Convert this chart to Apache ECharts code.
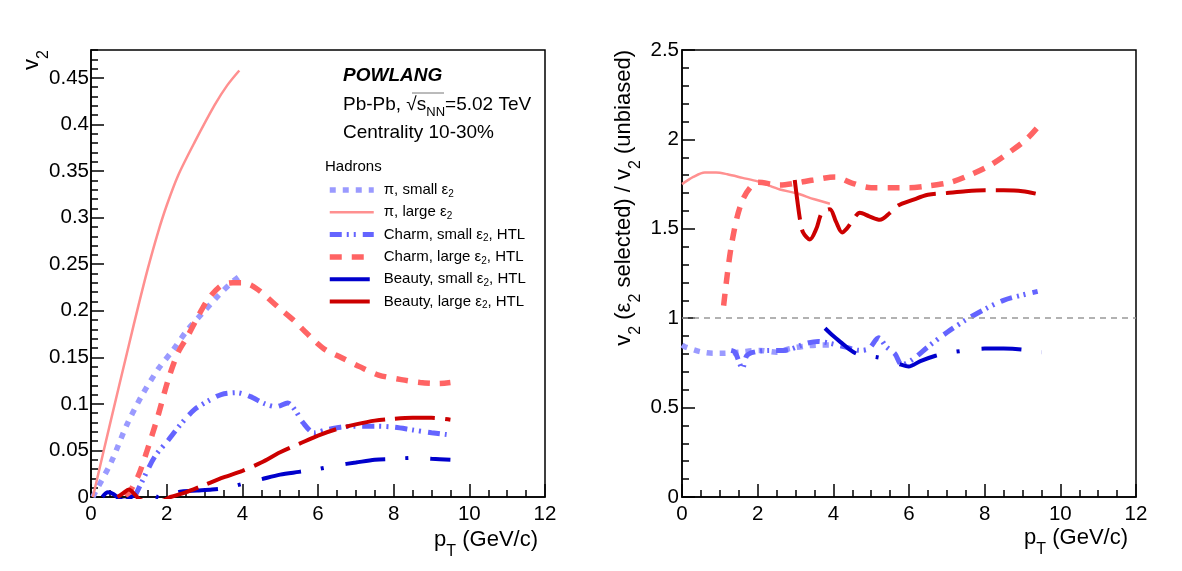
<!DOCTYPE html>
<html>
<head>
<meta charset="utf-8">
<script src="https://cdn.jsdelivr.net/npm/echarts@6/dist/echarts.min.js"></script>
<style>
html, body { margin: 0; padding: 0; background: #fff; }
#main { width: 1182px; height: 571px; }
</style>
</head>
<body>
<div id="main"></div>
<script>
// series names (legend order)
const seriesNames = [
  'π, small ε2',
  'π, large ε2',
  'Charm, small ε2, HTL',
  'Charm, large ε2, HTL',
  'Beauty, small ε2, HTL',
  'Beauty, large ε2, HTL'
];

// left panel: v2 vs pT, [pT, v2]
const piSmall = [[0.05,0.0],[0.1,0.004],[0.54,0.038],[0.93,0.076],[1.33,0.108],[1.77,0.137],[2.17,0.158],[2.56,0.18],[2.96,0.198],[3.36,0.216],[3.71,0.23],[3.93,0.237]];
const piLarge = [[0.05,0.0],[0.5,0.078],[1.0,0.163],[1.25,0.205],[1.5,0.245],[1.77,0.284],[2.0,0.313],[2.3,0.345],[2.74,0.381],[3.27,0.421],[3.6,0.442],[3.92,0.458]];
const charmSmall = [[1.15,0.0],[1.33,0.015],[1.68,0.043],[2.04,0.061],[2.39,0.079],[2.74,0.094],[3.09,0.103],[3.44,0.11],[3.85,0.112],[4.2,0.108],[4.6,0.1],[4.9,0.097],[5.2,0.101],[5.4,0.093],[5.6,0.08],[5.9,0.069],[6.2,0.072],[6.6,0.075],[7.0,0.076],[7.5,0.076],[8.0,0.075],[8.5,0.072],[9.0,0.069],[9.4,0.067]];
const charmLarge = [[0.95,0.0],[1.24,0.022],[1.46,0.047],[1.77,0.087],[2.04,0.126],[2.3,0.155],[2.56,0.173],[2.83,0.194],[3.09,0.212],[3.44,0.227],[3.75,0.23],[4.0,0.23],[4.25,0.227],[4.5,0.22],[4.75,0.211],[5.0,0.202],[5.35,0.19],[5.6,0.18],[5.9,0.168],[6.2,0.158],[6.6,0.15],[7.1,0.14],[7.6,0.131],[8.2,0.126],[8.7,0.123],[9.2,0.122],[9.5,0.123]];
const beautySmall = [[0.3,0.0],[0.45,0.005],[0.6,0.003],[0.75,-0.002],[0.9,-0.004],[1.1,0.001],[1.3,0.003],[1.5,0.004],[1.7,0.001],[1.9,-0.003],[2.1,0.002],[2.4,0.006],[2.8,0.007],[3.2,0.008],[3.6,0.01],[4.0,0.014],[4.5,0.019],[5.0,0.024],[5.5,0.027],[6.0,0.03],[6.5,0.034],[7.0,0.037],[7.5,0.04],[8.0,0.041],[8.5,0.042],[9.0,0.041],[9.5,0.04]];
const beautyLarge = [[0.7,0.0],[0.85,0.004],[1.0,0.008],[1.15,0.003],[1.3,-0.003],[1.6,-0.006],[1.9,-0.004],[2.1,0.0],[2.5,0.005],[3.0,0.013],[3.5,0.021],[4.0,0.028],[4.5,0.037],[5.0,0.048],[5.5,0.057],[6.0,0.066],[6.5,0.073],[7.0,0.078],[7.5,0.082],[8.0,0.084],[8.5,0.085],[9.0,0.085],[9.5,0.083]];

// right panel: v2(eps2 selected) / v2(unbiased), [pT, ratio]
const piSmallRatio = [[0,0.85],[0.08,0.84],[0.48,0.813],[0.83,0.804],[1.1,0.804],[1.5,0.81],[2.06,0.82],[2.5,0.81],[2.85,0.83],[3.3,0.845],[3.65,0.85],[3.95,0.85]];
const piLargeRatio = [[0,1.75],[0.3,1.79],[0.6,1.815],[0.9,1.815],[1.2,1.805],[1.6,1.785],[2.0,1.765],[2.59,1.72],[3.0,1.7],[3.5,1.665],[3.91,1.64]];
const charmSmallRatio = [[1.3,0.82],[1.4,0.81],[1.6,0.72],[1.71,0.79],[1.9,0.81],[2.3,0.82],[2.7,0.82],[3.3,0.86],[3.6,0.87],[3.9,0.86],[4.3,0.84],[4.7,0.82],[4.94,0.83],[5.2,0.89],[5.4,0.84],[5.63,0.8],[5.81,0.74],[6.1,0.77],[6.5,0.84],[7.0,0.92],[7.5,0.99],[8.0,1.05],[8.5,1.1],[9.0,1.13],[9.4,1.15]];
const charmLargeRatio = [[1.1,1.07],[1.2,1.25],[1.3,1.4],[1.45,1.56],[1.6,1.66],[1.8,1.73],[2.0,1.76],[2.59,1.745],[3.0,1.755],[3.47,1.773],[4.05,1.79],[4.49,1.756],[5.0,1.73],[5.5,1.73],[6.0,1.73],[6.5,1.74],[7.1,1.76],[7.6,1.8],[8.1,1.85],[8.6,1.92],[9.1,2.0],[9.45,2.08]];
const beautySmallRatio = [[3.78,0.944],[4.0,0.9],[4.2,0.865],[4.4,0.83],[4.63,0.8],[4.9,0.79],[5.2,0.78],[5.5,0.765],[5.8,0.74],[5.99,0.73],[6.3,0.76],[6.7,0.79],[7.0,0.805],[7.5,0.82],[8.0,0.83],[8.5,0.83],[9.0,0.825],[9.5,0.81]];
const beautyLargeRatio = [[2.98,1.773],[3.12,1.55],[3.2,1.48],[3.38,1.44],[3.55,1.5],[3.7,1.59],[3.91,1.61],[4.07,1.54],[4.23,1.48],[4.35,1.5],[4.49,1.54],[4.7,1.59],[4.95,1.57],[5.23,1.55],[5.5,1.59],[5.71,1.63],[6.08,1.66],[6.5,1.69],[7.0,1.7],[7.5,1.71],[8.0,1.715],[8.5,1.715],[9.0,1.71],[9.5,1.69]];

const referenceRatio = 1;

const FONT = 'Liberation Sans, Arial, Helvetica, sans-serif';

// line look per species: [color, width, dash]
const looks = [
  ['#9a9aff', 5.5, [6, 7]],
  ['#ff9090', 2.5, 'solid'],
  ['#6464ff', 5, [12, 5, 2, 5, 2, 7]],
  ['#ff6464', 5.5, [12, 10]],
  ['#0000cc', 4, [40, 20, 3, 22]],
  ['#cc0000', 4, [40, 10]]
];

function curve (i, data, panel) {
  const [color, width, dash] = looks[i];
  return {
    name: seriesNames[i],
    type: 'line',
    xAxisIndex: panel,
    yAxisIndex: panel === 0 ? 0 : 2,
    data: data,
    symbol: 'none',
    showSymbol: false,
    smooth: 0.3,
    lineStyle: { color: color, width: width, type: dash, cap: 'butt' },
    itemStyle: { color: color },
    z: 3
  };
}

const black = { color: '#000', width: 1.5 };
const tickLabel = { color: '#000', fontSize: 20.5, fontFamily: FONT };

function xAxisFor (g) {
  return {
    type: 'value', gridIndex: g, min: 0, max: 12, interval: 2,
    axisLine: { lineStyle: black },
    axisTick: { inside: true, length: 13, lineStyle: black },
    minorTick: { show: true, splitNumber: 4, length: 7, lineStyle: black },
    splitLine: { show: false },
    axisLabel: Object.assign({ margin: 7 }, tickLabel)
  };
}

const sub = { fontSize: 16, fontFamily: FONT, fill: '#000', verticalAlign: 'bottom', lineHeight: 16 };
const titleStyle = { fontSize: 22, fontFamily: FONT, fill: '#000', lineHeight: 40, rich: { s: sub } };

let option = {
  animation: false,
  backgroundColor: '#fff',
  grid: [
    { left: 91, top: 50, width: 454, height: 447, show: true, borderColor: '#000', borderWidth: 1.5, outerBoundsMode: 'none' },
    { left: 682, top: 50, width: 454, height: 447, show: true, borderColor: '#000', borderWidth: 1.5, outerBoundsMode: 'none' }
  ],
  xAxis: [xAxisFor(0), xAxisFor(1)],
  yAxis: [
    {
      type: 'value', gridIndex: 0, position: 'left', min: 0, max: 0.48, interval: 0.05,
      axisLine: { lineStyle: black },
      axisTick: { inside: true, length: 13, lineStyle: black },
      splitLine: { show: false },
      axisLabel: Object.assign({ margin: 2, showMaxLabel: false }, tickLabel)
    },
    {
      type: 'value', gridIndex: 0, position: 'left', min: 0, max: 0.48, interval: 0.01,
      axisLine: { show: false },
      axisTick: { inside: true, length: 7, lineStyle: black },
      splitLine: { show: false },
      axisLabel: { show: false }
    },
    {
      type: 'value', gridIndex: 1, position: 'left', min: 0, max: 2.5, interval: 0.5,
      axisLine: { lineStyle: black },
      axisTick: { inside: true, length: 13, lineStyle: black },
      minorTick: { show: true, splitNumber: 5, length: 7, lineStyle: black },
      splitLine: { show: false },
      axisLabel: Object.assign({ margin: 3 }, tickLabel)
    }
  ],
  legend: {
    left: 327, top: 181, orient: 'vertical',
    itemWidth: 44, itemHeight: 10, itemGap: 4.3, padding: 0,
    selectedMode: false,
    data: seriesNames,
    itemStyle: { opacity: 0 },
    lineStyle: { width: 'inherit' },
    formatter: name => name.replace('ε2', 'ε{s|2}'),
    textStyle: {
      color: '#000', fontSize: 15, fontFamily: FONT, lineHeight: 18, padding: [0, 0, 0, 5],
      rich: { s: { fontSize: 10, fontFamily: FONT, color: '#000', verticalAlign: 'bottom', lineHeight: 10 } }
    }
  },
  graphic: [
    { type: 'text', x: 538, y: 540, style: Object.assign({ text: 'p{s|T} (GeV/c)', align: 'right', verticalAlign: 'middle' }, titleStyle) },
    { type: 'text', x: 1128, y: 538, style: Object.assign({ text: 'p{s|T} (GeV/c)', align: 'right', verticalAlign: 'middle' }, titleStyle) },
    { type: 'text', x: 32, y: 50, rotation: Math.PI / 2, style: Object.assign({ text: 'v{s|2}', align: 'right', verticalAlign: 'middle' }, titleStyle) },
    { type: 'text', x: 624, y: 50, rotation: Math.PI / 2, style: Object.assign({ text: 'v{s|2} (ε{s|2} selected) / v{s|2} (unbiased)', align: 'right', verticalAlign: 'middle' }, titleStyle) },
    { type: 'text', x: 343, y: 76, style: { text: 'POWLANG', fontSize: 19, fontWeight: 'bold', fontStyle: 'italic', fontFamily: FONT, fill: '#000', align: 'left', verticalAlign: 'middle' } },
    { type: 'text', x: 343, y: 105, style: { text: 'Pb-Pb, √s{n|NN}=5.02 TeV', fontSize: 19, fontFamily: FONT, fill: '#000', align: 'left', verticalAlign: 'middle', lineHeight: 28,
      rich: { n: { fontSize: 13, fontFamily: FONT, fill: '#000', verticalAlign: 'bottom', lineHeight: 13 } } } },
    { type: 'line', shape: { x1: 412, y1: 93, x2: 444, y2: 93 }, style: { stroke: '#777', lineWidth: 1 } },
    { type: 'text', x: 343, y: 133, style: { text: 'Centrality 10-30%', fontSize: 19, fontFamily: FONT, fill: '#000', align: 'left', verticalAlign: 'middle' } },
    { type: 'text', x: 325, y: 167, style: { text: 'Hadrons', fontSize: 15, fontFamily: FONT, fill: '#000', align: 'left', verticalAlign: 'middle' } }
  ],
  series: [
    curve(0, piSmall, 0),
    curve(1, piLarge, 0),
    curve(2, charmSmall, 0),
    curve(3, charmLarge, 0),
    curve(4, beautySmall, 0),
    curve(5, beautyLarge, 0),
    Object.assign(curve(0, piSmallRatio, 1), {
      markLine: {
        silent: true, symbol: 'none', label: { show: false },
        lineStyle: { color: '#999', type: [6, 5], width: 1.5 },
        data: [{ yAxis: referenceRatio }]
      }
    }),
    curve(1, piLargeRatio, 1),
    curve(2, charmSmallRatio, 1),
    curve(3, charmLargeRatio, 1),
    curve(4, beautySmallRatio, 1),
    curve(5, beautyLargeRatio, 1)
  ]
};

let myChart = echarts.init(document.getElementById('main'));
myChart.setOption(option);
</script>
</body>
</html>
